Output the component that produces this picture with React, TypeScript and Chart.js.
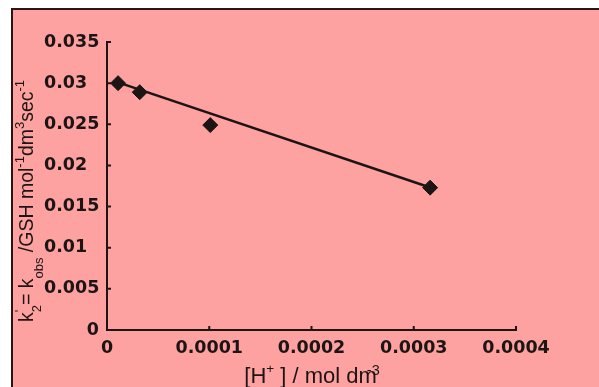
import { useEffect, useRef } from 'react';
import { Chart, registerables } from 'chart.js';

Chart.register(...registerables);

// ---- data ----
const hIon = [0.0000108, 0.000032, 0.000101, 0.000316];
const kPrime = [0.03, 0.0289, 0.0249, 0.0173];
const fitX = [0.0000108, 0.000319];
const fitY = [0.0301, 0.0172];
const xTickValues = [0, 0.0001, 0.0002, 0.0003, 0.0004];
const xTickLabels = ['0', '0.0001', '0.0002', '0.0003', '0.0004'];
const yTickValues = [0, 0.005, 0.01, 0.015, 0.02, 0.025, 0.03, 0.035];
const yTickLabels = ['       0', '0.005', '0.01', '0.015', '0.02', '0.025', '0.03', '0.035'];

const INK = '#1d1515';
const PINK = '#fda2a0';
const TICK_FONT = { family: 'DejaVu Sans', size: 17.5, weight: 'bold' as const };
const TITLE_FAMILY = '"Liberation Sans", Arial, sans-serif';

type Seg = { text: string; size: number; dy: number; stack?: boolean; gap?: number };

function drawRich(ctx: CanvasRenderingContext2D, segs: Seg[], cx: number, baseY: number) {
  let total = 0;
  let prevStart = 0;
  let prevW = 0;
  const xs: number[] = [];
  segs.forEach((s) => {
    ctx.font = `${s.size}px ${TITLE_FAMILY}`;
    const w = ctx.measureText(s.text).width;
    if (s.stack) {
      xs.push(prevStart);
      prevW = Math.max(prevW, w);
      total = prevStart + prevW;
    } else {
      const start = total + (s.gap || 0);
      xs.push(start);
      prevStart = start;
      prevW = w;
      total = start + w;
    }
  });
  const left = cx - total / 2;
  ctx.textBaseline = 'alphabetic';
  ctx.textAlign = 'left';
  ctx.fillStyle = INK;
  segs.forEach((s, i) => {
    ctx.font = `${s.size}px ${TITLE_FAMILY}`;
    ctx.fillText(s.text, left + xs[i], baseY + s.dy);
  });
}

const xTitle: Seg[] = [
  { text: '[H', size: 22, dy: 0 },
  { text: '+', size: 13.5, dy: -10 },
  { text: ' ] / mol dm', size: 22, dy: 0 },
  { text: '-3', size: 14.5, dy: -8, gap: -10 },
];

const yTitle: Seg[] = [
  { text: 'k', size: 19.5, dy: 0 },
  { text: '2', size: 13, dy: 8 },
  { text: "'", size: 13, dy: -9, stack: true },
  { text: '= k', size: 19.5, dy: 0 },
  { text: 'obs', size: 13, dy: 10 },
  { text: ' /GSH mol', size: 19.5, dy: 0 },
  { text: '-1', size: 13, dy: -9 },
  { text: 'dm', size: 19.5, dy: 0 },
  { text: '3', size: 13, dy: -9 },
  { text: 'sec', size: 19.5, dy: 0 },
  { text: '-1', size: 13, dy: -9 },
];

const decorPlugin = {
  id: 'decor',
  beforeDraw(chart: any) {
    const { ctx, width, height } = chart;
    ctx.save();
    ctx.fillStyle = '#ffffff';
    ctx.fillRect(0, 0, width, height);
    ctx.fillStyle = PINK;
    ctx.fillRect(12, 9, width - 12, height - 9);
    ctx.strokeStyle = '#2a1414';
    ctx.lineWidth = 2;
    ctx.beginPath();
    ctx.moveTo(12, height);
    ctx.lineTo(12, 9);
    ctx.lineTo(width, 9);
    ctx.stroke();
    ctx.restore();
  },
  afterDraw(chart: any) {
    const { ctx, chartArea } = chart;
    const xs = chart.scales.x;
    const ys = chart.scales.y;
    ctx.save();
    ctx.strokeStyle = INK;
    ctx.lineWidth = 2;
    ctx.beginPath();
    xTickValues.forEach((v) => {
      const px = xs.getPixelForValue(v);
      ctx.moveTo(px, chartArea.bottom);
      ctx.lineTo(px, chartArea.bottom - 4);
    });
    yTickValues.forEach((v) => {
      const py = ys.getPixelForValue(v);
      ctx.moveTo(chartArea.left, py);
      ctx.lineTo(chartArea.left + 4, py);
    });
    ctx.stroke();

    drawRich(ctx, xTitle, 312, 383);

    ctx.translate(33, 201);
    ctx.rotate(-Math.PI / 2);
    drawRich(ctx, yTitle, 0, 0);
    ctx.restore();
  },
};

export default function App() {
  const ref = useRef<HTMLCanvasElement | null>(null);
  useEffect(() => {
    const canvas = ref.current;
    if (!canvas) return;
    const chart = new Chart(canvas, {
      type: 'scatter',
      data: {
        datasets: [
          {
            label: 'fit',
            data: fitX.map((x, i) => ({ x, y: fitY[i] })),
            showLine: true,
            borderColor: INK,
            borderWidth: 2.5,
            pointRadius: 0,
            order: 2,
          },
          {
            label: 'k2',
            data: hIon.map((x, i) => ({ x, y: kPrime[i] })),
            pointStyle: 'rectRot',
            pointRadius: 7.5,
            backgroundColor: INK,
            borderColor: INK,
            borderWidth: 1,
            order: 1,
          },
        ],
      },
      options: {
        animation: false,
        responsive: false,
        devicePixelRatio: 1,
        layout: { padding: { left: 44, top: 42, right: 83, bottom: 0 } },
        plugins: { legend: { display: false }, tooltip: { enabled: false } },
        scales: {
          x: {
            type: 'linear',
            min: 0,
            max: 0.0004,
            afterFit: (s: any) => {
              s.height = 57;
            },
            afterBuildTicks: (s: any) => {
              s.ticks = xTickValues.map((v) => ({ value: v }));
            },
            ticks: {
              color: INK,
              font: TICK_FONT,
              padding: 8,
              maxRotation: 0,
              autoSkip: false,
              callback: (v: any) => xTickLabels[xTickValues.indexOf(Number(v))] ?? '',
            },
            grid: { display: true, drawOnChartArea: false, drawTicks: false },
            border: { display: true, color: INK, width: 2 },
          },
          y: {
            type: 'linear',
            min: 0,
            max: 0.035,
            afterFit: (s: any) => {
              s.width = 63;
            },
            afterBuildTicks: (s: any) => {
              s.ticks = yTickValues.map((v) => ({ value: v }));
            },
            ticks: {
              color: INK,
              font: TICK_FONT,
              crossAlign: 'far',
              autoSkip: false,
              callback: (v: any) => {
                const i = yTickValues.findIndex((t) => Math.abs(t - Number(v)) < 1e-9);
                return i >= 0 ? yTickLabels[i] : '';
              },
            },
            grid: { display: true, drawOnChartArea: false, drawTicks: false },
            border: { display: true, color: INK, width: 2 },
          },
        },
      },
      plugins: [decorPlugin],
    });
    return () => chart.destroy();
  }, []);
  return (
    <div style={{ position: 'fixed', left: 0, top: 0, width: 599, height: 387 }}>
      <canvas ref={ref} width={599} height={387} style={{ display: 'block', width: 599, height: 387 }} />
    </div>
  );
}
